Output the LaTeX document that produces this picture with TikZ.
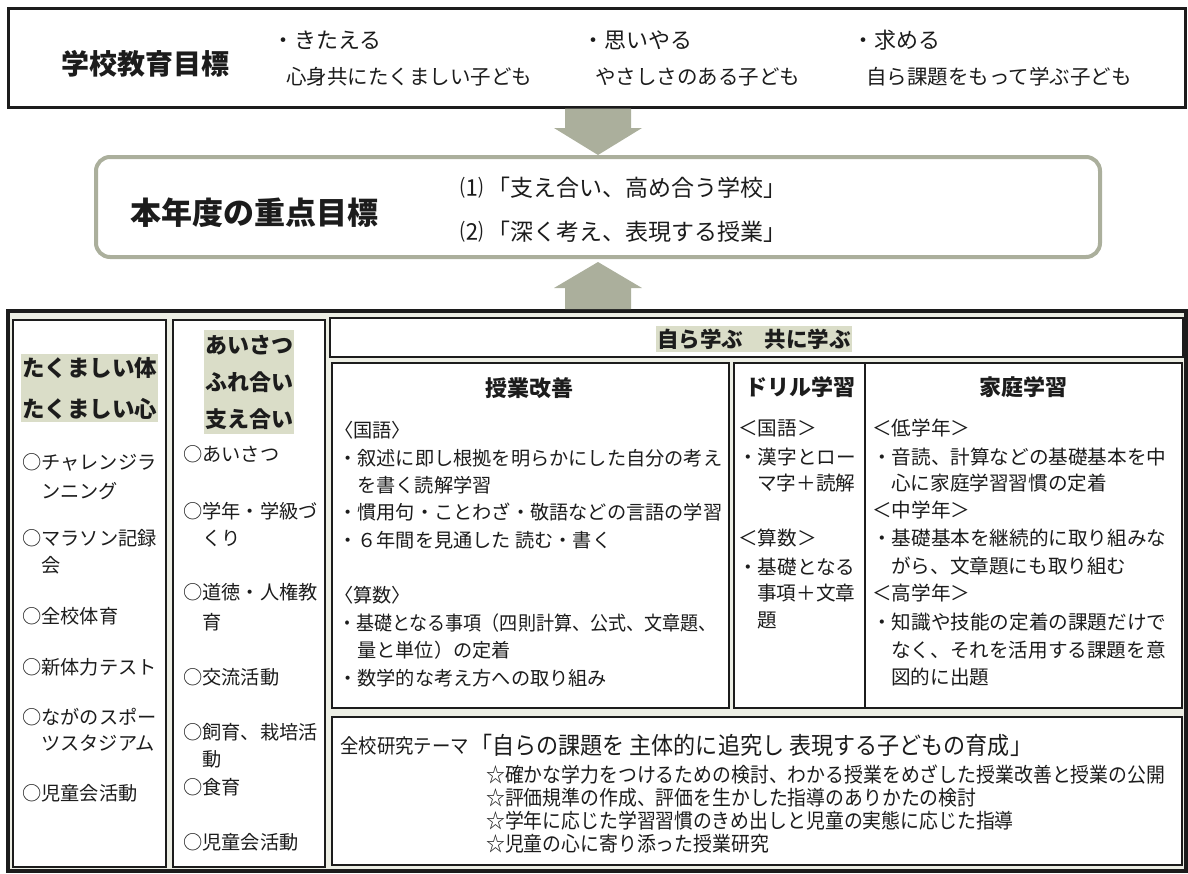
\documentclass[tikz,border=0pt]{standalone}
\usepackage{fontspec}
\setmainfont{Noto Sans CJK JP}
\newfontfamily\jpc{Noto Sans CJK JP}[FakeStretch=0.92]
\usetikzlibrary{calc}
\definecolor{ink}{HTML}{1C1C1C}
\definecolor{sage}{HTML}{ABAF9C}
\definecolor{hl}{HTML}{DADDC8}
\definecolor{framebg}{HTML}{ECEEE4}
\begin{document}
\begin{tikzpicture}[x=1pt,y=-1pt,
  every node/.style={text=ink},
  lbl/.style={anchor=west, inner sep=0pt, font=\fontsize{19.2}{19.2}\selectfont},
  lblh/.style={anchor=west, inner sep=0pt, font=\fontsize{19.6}{19.6}\selectfont},
  head/.style={inner sep=0pt, font=\bfseries\fontsize{22}{22}\selectfont},
  panel/.style={draw=ink, line width=1.8pt, fill=white, inner sep=0pt},
  arrowfill/.style={fill=sage},
]
\useasboundingbox (0,0) rectangle (1188,873);

% ---------- main frames ----------
\node[draw=ink, line width=3pt, fill=white, inner sep=0pt, minimum width=1177pt, minimum height=99pt] (goal) at (596.5,57.5) {};
\node[draw=sage, line width=4pt, fill=white, rounded corners=14pt, inner sep=0pt, minimum width=1004pt, minimum height=100pt] (focus) at (598,207) {};
\node[draw=ink, line width=4pt, fill=framebg, inner sep=0pt, minimum width=1178pt, minimum height=560pt] (base) at (597,591) {};

% ---------- block arrows ----------
\coordinate (ax) at (598,0);
\fill[arrowfill] ($(ax |- goal.south)+(-33,0)$) -- ($(ax |- goal.south)+(33,0)$)
  -- ($(ax |- focus.north)+(33,-27)$) -- ($(ax |- focus.north)+(44,-27)$)
  -- ($(ax |- focus.north)+(0,0)$) -- ($(ax |- focus.north)+(-44,-27)$)
  -- ($(ax |- focus.north)+(-33,-27)$) -- cycle;
\fill[arrowfill] ($(ax |- focus.south)+(0,3)$) -- ($(ax |- focus.south)+(44,29)$)
  -- ($(ax |- focus.south)+(33,29)$) -- ($(ax |- base.north)+(33,0)$)
  -- ($(ax |- base.north)+(-33,0)$) -- ($(ax |- focus.south)+(-33,29)$)
  -- ($(ax |- focus.south)+(-44,29)$) -- cycle;

% ---------- panels ----------
\node[panel, minimum width=153pt, minimum height=547pt] (colA) at (89.5,593.5) {};
\node[panel, minimum width=152pt, minimum height=547pt] (colB) at (249,593.5) {};
\node[panel, minimum width=853pt, minimum height=39pt] (motto) at (756.5,337.5) {};
\node[panel, minimum width=397pt, minimum height=345pt] (lesson) at (530.5,535.5) {};
\node[panel, minimum width=131pt, minimum height=345pt] (drill) at (799.5,535.5) {};
\node[panel, minimum width=317pt, minimum height=345pt] (home) at (1023.5,535.5) {};
\node[panel, minimum width=850pt, minimum height=148pt] (theme) at (757,791) {};

% ---------- top box text ----------
\node[anchor=west, inner sep=0pt, font=\bfseries\fontsize{28}{28}\selectfont] (goalT) at (61,64) {学校教育目標};
\node[anchor=west, inner sep=0pt, font=\fontsize{22}{22}\selectfont] (g1) at (272,40) {・きたえる};
\node[anchor=west, inner sep=0pt, font=\fontsize{20.5}{20.5}\selectfont] (g1s) at (286,77) {心身共にたくましい子ども};
\node[anchor=west, inner sep=0pt, font=\fontsize{22}{22}\selectfont] (g2) at (582,40) {・思いやる};
\node[anchor=west, inner sep=0pt, font=\fontsize{20.5}{20.5}\selectfont] (g2s) at (595,77) {やさしさのある子ども};
\node[anchor=west, inner sep=0pt, font=\fontsize{22}{22}\selectfont] (g3) at (852,40) {・求める};
\node[anchor=west, inner sep=0pt, font=\fontsize{20.5}{20.5}\selectfont] (g3s) at (866,77) {自ら課題をもって学ぶ子ども};

% ---------- middle box text ----------
\node[anchor=west, inner sep=0pt, font=\bfseries\fontsize{31}{31}\selectfont] (focusT) at (130,213) {本年度の重点目標};
\node[anchor=west, inner sep=0pt, font=\fontsize{23}{23}\selectfont] (f1) at (460,188) {⑴\hspace{4pt}「支え合い、高め合う学校」};
\node[anchor=west, inner sep=0pt, font=\fontsize{23}{23}\selectfont] (f2) at (460,232) {⑵\hspace{4pt}「深く考え、表現する授業」};

% ---------- column 1 ----------
\node[head, fill=hl, align=center, inner xsep=1pt, inner ysep=3pt, font=\bfseries\fontsize{22.5}{41}\selectfont] (colAh) at (89.5,388) {たくましい体\\たくましい心};
\node[lbl] (a1) at (22,462) {○チャレンジラ};
\node[lbl] (a1b) at (41,491) {ンニング};
\node[lbl] (a2) at (22,538) {○マラソン記録};
\node[lbl] (a2b) at (41,565) {会};
\node[lbl] (a3) at (22,616) {○全校体育};
\node[lbl] (a4) at (22,667) {○新体力テスト};
\node[lbl] (a5) at (22,717) {○ながのスポー};
\node[lbl] (a5b) at (41,743) {ツスタジアム};
\node[lbl] (a6) at (22,793) {○児童会活動};

% ---------- column 2 ----------
\node[head, fill=hl, align=center, inner xsep=1pt, inner ysep=5pt, font=\bfseries\fontsize{22}{37}\selectfont] (colBh) at (249,382) {あいさつ\\ふれ合い\\支え合い};
\node[lbl] (b1) at (183,454) {○あいさつ};
\node[lbl] (b2) at (183,511) {○学年・学級づ};
\node[lbl] (b2b) at (202,538) {くり};
\node[lbl] (b3) at (183,592) {○道徳・人権教};
\node[lbl] (b3b) at (202,622) {育};
\node[lbl] (b4) at (183,677) {○交流活動};
\node[lbl] (b5) at (183,732) {○飼育、栽培活};
\node[lbl] (b5b) at (202,759) {動};
\node[lbl] (b6) at (183,787) {○食育};
\node[lbl] (b7) at (183,842) {○児童会活動};

% ---------- motto ----------
\node[inner xsep=1pt, inner ysep=3pt, fill=hl, font=\bfseries\fontsize{21.5}{21.5}\selectfont] (mottoT) at (754,339) {自ら学ぶ　共に学ぶ};

% ---------- lesson improvement ----------
\node[head] (lessonT) at (529,388) {授業改善};
\node[lbl] (l1) at (334,430) {〈国語〉};
\node[lbl] (l2) at (338,458) {・叙述に即し根拠を明らかにした自分の考え};
\node[lbl] (l2b) at (357,485) {を書く読解学習};
\node[lbl] (l3) at (338,512) {・慣用句・ことわざ・敬語などの言語の学習};
\node[lbl] (l4) at (338,540) {・６年間を見通した 読む・書く};
\node[lbl] (l5) at (334,595) {〈算数〉};
\node[lbl, font=\jpc\fontsize{19.6}{19.6}\selectfont] (l6) at (338,623) {・基礎となる事項（四則計算、公式、文章題、};
\node[lbl] (l6b) at (357,650) {量と単位）の定着};
\node[lbl] (l7) at (338,678) {・数学的な考え方への取り組み};

% ---------- drill ----------
\node[head] (drillT) at (800,387) {ドリル学習};
\node[lblh] (d1) at (738,428) {＜国語＞};
\node[lblh] (d2) at (738,457) {・漢字とロー};
\node[lblh] (d2b) at (757,483) {マ字＋読解};
\node[lblh] (d3) at (738,538) {＜算数＞};
\node[lblh] (d4) at (738,567) {・基礎となる};
\node[lblh] (d4b) at (757,593) {事項＋文章};
\node[lblh] (d4c) at (757,620) {題};

% ---------- home study ----------
\node[head] (homeT) at (1023,387) {家庭学習};
\node[lblh] (h1) at (872,428) {＜低学年＞};
\node[lblh] (h2) at (872,457) {・音読、計算などの基礎基本を中};
\node[lblh] (h2b) at (891,483) {心に家庭学習習慣の定着};
\node[lblh] (h3) at (872,510) {＜中学年＞};
\node[lblh] (h4) at (872,538) {・基礎基本を継続的に取り組みな};
\node[lblh] (h4b) at (891,566) {がら、文章題にも取り組む};
\node[lblh] (h5) at (872,593) {＜高学年＞};
\node[lblh] (h6) at (872,622) {・知識や技能の定着の課題だけで};
\node[lblh] (h6b) at (891,650) {なく、それを活用する課題を意};
\node[lblh] (h6c) at (891,677) {図的に出題};

% ---------- research theme ----------
\node[anchor=west, inner sep=0pt, font=\jpc\fontsize{20}{20}\selectfont] (themeL) at (340,746) {全校研究テーマ};
\node[anchor=west, inner sep=0pt, font=\jpc\fontsize{24}{24}\selectfont] (themeT) at (470,745) {「自らの課題を 主体的に追究し 表現する子どもの育成」};
\node[anchor=west, inner sep=0pt, font=\jpc\fontsize{20.5}{20.5}\selectfont] (t1) at (486,775) {☆確かな学力をつけるための検討、わかる授業をめざした授業改善と授業の公開};
\node[anchor=west, inner sep=0pt, font=\jpc\fontsize{20.5}{20.5}\selectfont] (t2) at (486,798) {☆評価規準の作成、評価を生かした指導のありかたの検討};
\node[anchor=west, inner sep=0pt, font=\jpc\fontsize{20.5}{20.5}\selectfont] (t3) at (486,821) {☆学年に応じた学習習慣のきめ出しと児童の実態に応じた指導};
\node[anchor=west, inner sep=0pt, font=\jpc\fontsize{20.5}{20.5}\selectfont] (t4) at (486,844) {☆児童の心に寄り添った授業研究};
\end{tikzpicture}
\end{document}
